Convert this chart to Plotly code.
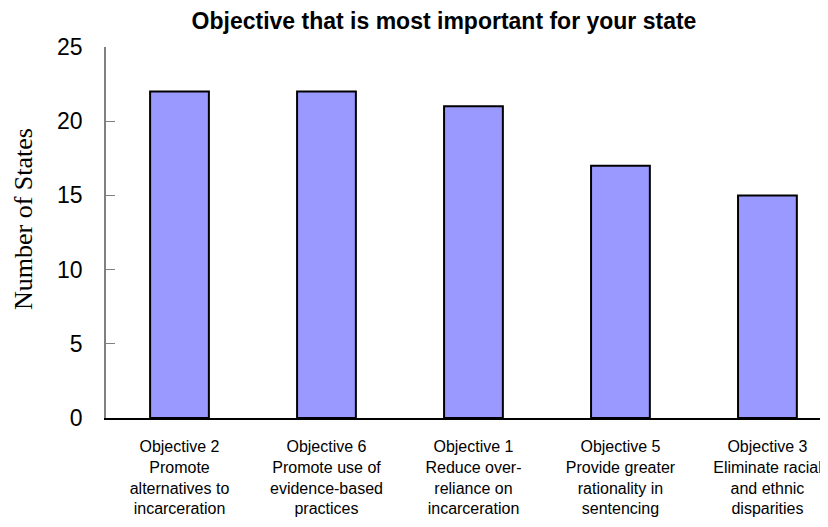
import plotly.graph_objects as go

categories = [
    "Objective 2<br>Promote<br>alternatives to<br>incarceration",
    "Objective 6<br>Promote use of<br>evidence-based<br>practices",
    "Objective 1<br>Reduce over-<br>reliance on<br>incarceration",
    "Objective 5<br>Provide greater<br>rationality in<br>sentencing",
    "Objective 3<br>Eliminate racial<br>and ethnic<br>disparities",
]
values = [22, 22, 21, 17, 15]
y_ticks = [0, 5, 10, 15, 20, 25]

# page has an 8px body margin; figure sized to fill the rest of the window
W, H = 820, 519
L, T, R, B = 98, 39, 0, 109
plot_w = W - L - R
plot_h = H - T - B

fig = go.Figure(go.Bar(
    x=list(range(len(categories))), y=values,
    marker=dict(color="#9999FF", line=dict(color="black", width=2)),
    width=0.4,
))

fig.update_layout(
    width=W, height=H,
    margin=dict(l=L, r=R, t=T, b=B),
    paper_bgcolor="white", plot_bgcolor="white",
    showlegend=False,
    title=dict(text="<b>Objective that is most important for your state</b>",
               xref="container", x=436 / W, xanchor="center",
               yref="container", y=1 - 13 / H, yanchor="middle",
               font=dict(family="Arial, Liberation Sans", size=23, color="black")),
    xaxis=dict(showline=True, linecolor="black", linewidth=1.5, ticks="",
               tickvals=list(range(len(categories))), ticktext=categories,
               tickfont=dict(family="Arial, Liberation Sans", size=16, color="black"),
               range=[-0.5, 4.412], automargin=False, ticklabelstandoff=13),
    yaxis=dict(range=[0, 25], tickvals=y_ticks, showline=True, linecolor="#808080", linewidth=1.5,
               ticks="inside", ticklen=9, tickcolor="#808080", showgrid=False, zeroline=False,
               automargin=False, ticklabelstandoff=17,
               tickfont=dict(family="Arial, Liberation Sans", size=23, color="black")),
    annotations=[dict(text="Number of States", textangle=-90,
                      xref="paper", yref="paper",
                      x=(15 - L) / plot_w, y=(410 - 211) / plot_h,
                      xanchor="center", yanchor="middle", showarrow=False,
                      font=dict(family="Times New Roman, Liberation Serif", size=26, color="black"))],
)

fig.write_html("out.html")
